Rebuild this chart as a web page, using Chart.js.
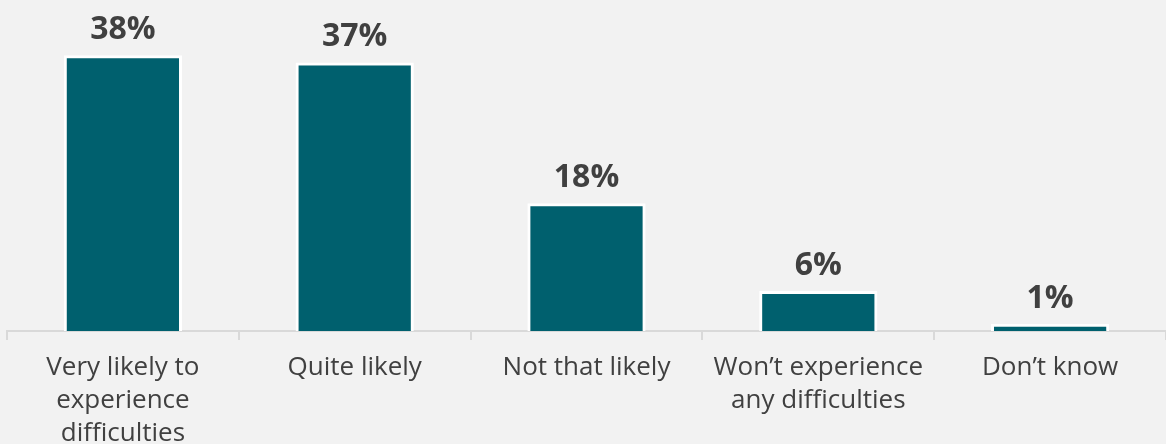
<!DOCTYPE html>
<html>
<head>
<meta charset="utf-8">
<script src="https://cdn.jsdelivr.net/npm/chart.js@4"></script>
<style>
  html, body { margin: 0; padding: 0; background: #f2f2f2; overflow: hidden; }
  #wrap { width: 1166px; height: 461px; }
</style>
</head>
<body>
<div id="wrap"><canvas id="chart"></canvas></div>
<script>
// data
const categories = [
    ["Very likely to", "experience", "difficulties"],
    ["Quite likely"],
    ["Not that likely"],
    ["Won\u2019t experience", "any difficulties"],
    ["Don\u2019t know"],
];
const shares = [38, 37, 17.6, 5.5, 1.0];

const TEAL = "#00606e";
const TEXT = "#404040";

// draw "38%" style labels above each bar
const barLabels = {
    id: "barLabels",
    afterDatasetsDraw(chart) {
        const ctx = chart.ctx;
        const meta = chart.getDatasetMeta(0);
        ctx.save();
        ctx.font = "bold 32px 'Open Sans'";
        ctx.fillStyle = TEXT;
        ctx.textAlign = "center";
        ctx.textBaseline = "alphabetic";
        meta.data.forEach((bar, i) => {
            ctx.fillText(Math.round(shares[i]) + "%", bar.x, bar.y - 16);
        });
        ctx.restore();
    }
};

new Chart(document.getElementById("chart"), {
    type: "bar",
    data: {
        labels: categories,
        datasets: [{
            data: shares,
            backgroundColor: TEAL,
            borderColor: "#ffffff",
            borderWidth: 3,
            barPercentage: 0.51,
            categoryPercentage: 1.0,
        }]
    },
    options: {
        responsive: true,
        maintainAspectRatio: false,
        animation: false,
        layout: { padding: { left: 7, right: 0, top: 0, bottom: 0 } },
        plugins: {
            legend: { display: false },
            tooltip: { enabled: false }
        },
        scales: {
            x: {
                grid: {
                    offset: true,
                    drawOnChartArea: false,
                    drawTicks: true,
                    tickLength: 9,
                    color: "#d9d9d9",
                    lineWidth: 2,
                },
                border: { color: "#d9d9d9", width: 2 },
                ticks: {
                    color: TEXT,
                    font: { family: "'Open Sans'", size: 26, lineHeight: 1.27 },
                    padding: 11,
                    maxRotation: 0,
                    autoSkip: false,
                }
            },
            y: {
                display: false,
                min: 0,
                max: 45.6,
            }
        }
    },
    plugins: [barLabels]
});
</script>
</body>
</html>
